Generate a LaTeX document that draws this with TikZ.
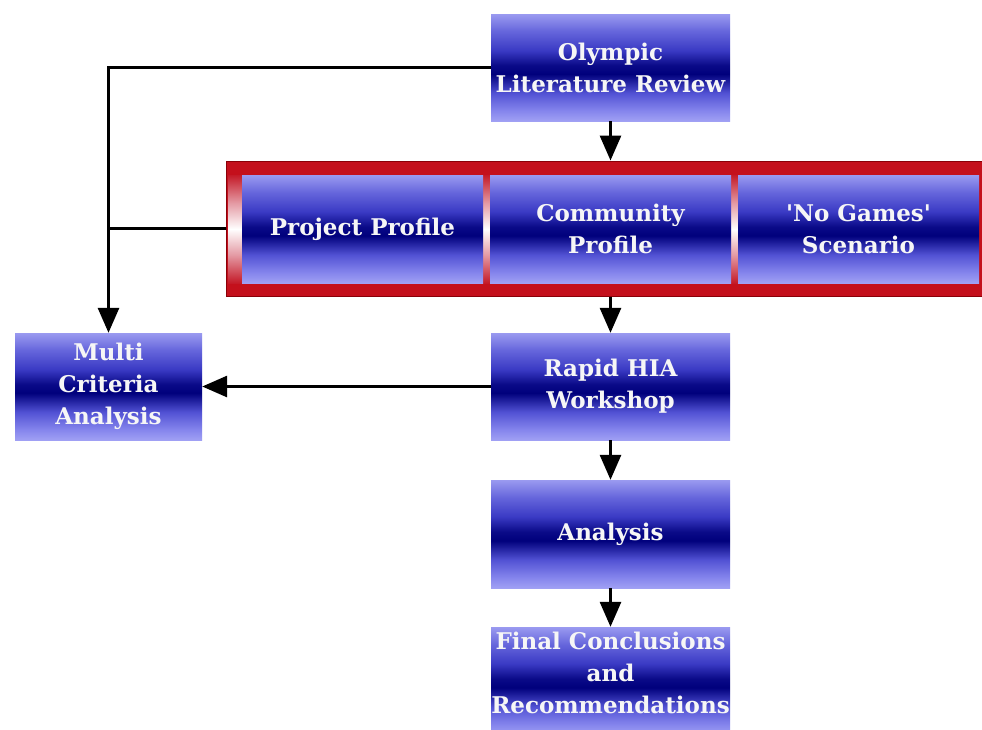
\documentclass[tikz,border=0pt]{standalone}
\usepackage{fontspec}
\newfontfamily\bxfont{DejaVu Serif}[Ligatures=TeXOff]
\usetikzlibrary{arrows.meta}
\definecolor{bxA}{HTML}{A0A0F4}
\definecolor{bxB}{HTML}{8484EC}
\definecolor{bxC}{HTML}{5252D4}
\definecolor{bxD}{HTML}{00007C}
\definecolor{bxDD}{HTML}{0A0A88}
\definecolor{bxE}{HTML}{3A3AC4}
\definecolor{bxF}{HTML}{6666DC}
\definecolor{bxG}{HTML}{9A9AF0}
\definecolor{frred}{HTML}{C4101C}
\definecolor{frdark}{HTML}{8A0008}
\definecolor{gpA}{HTML}{C41A28}
\definecolor{gpB}{HTML}{E49AA4}
\definecolor{txtc}{HTML}{F6F6F6}
\pgfdeclareverticalshading{bxshade}{100bp}{color(0bp)=(bxA); color(25bp)=(bxA); color(30bp)=(bxB); color(38bp)=(bxC); color(47bp)=(bxD); color(51bp)=(bxDD); color(58bp)=(bxE); color(67bp)=(bxF); color(75bp)=(bxG); color(100bp)=(bxG)}
\pgfdeclareverticalshading{gapshade}{100bp}{color(0bp)=(gpA); color(25bp)=(gpA); color(38bp)=(gpB); color(50bp)=(white); color(62bp)=(gpB); color(75bp)=(gpA); color(100bp)=(gpA)}
\tikzset{
  bx/.style={shading=bxshade, draw=none, minimum width=239pt, minimum height=107pt,
    inner sep=0pt, align=center, text=txtc, font=\bxfont\bfseries\fontsize{23}{32}\selectfont},
  txtonly/.style={inner sep=0pt, align=center, text=txtc, font=\bxfont\bfseries\fontsize{23}{32}\selectfont},
  arr/.style={line width=3pt, -{Triangle[length=25pt,width=21pt]}},
  ln/.style={line width=3pt}
}
\begin{document}
\begin{tikzpicture}[x=1pt,y=-1pt]
\useasboundingbox (0,0) rectangle (982,729);
\fill[white] (0,0) rectangle (982,729);
% red frame
\node[draw=frdark, fill=frred, line width=1pt, minimum width=756pt, minimum height=135pt, inner sep=0pt] (frame) at (604,228.5) {};
\shade[shading=gapshade] (228,175) rectangle (242,283);
\shade[shading=gapshade] (483,175) rectangle (490,283);
\shade[shading=gapshade] (731,175) rectangle (738,283);
% boxes
\node[bx] (olr) at (610.5,67.5) {Olympic\\Literature Review};
\node[bx, minimum width=241pt, minimum height=108pt] (pp) at (362.5,229) {Project Profile};
\node[bx, minimum width=241pt, minimum height=108pt] (cp) at (610.5,229) {Community\\Profile};
\node[bx, minimum width=241pt, minimum height=108pt] (ng) at (858.5,229) {'No Games'\\Scenario};
\node[bx, minimum width=187pt] (mca) at (108.5,386.5) {Multi\\Criteria\\Analysis};
\node[bx] (rhia) at (610.5,386.5) {Rapid HIA\\Workshop};
\node[bx, minimum height=108pt] (ana) at (610.5,534) {Analysis};
\node[bx, minimum height=108pt] (fcr) at (610.5,681) {};
\node[txtonly] (fcrtext) at ([yshift=8pt]fcr.center) {Final Conclusions\\and\\Recommendations};
% connectors
\draw[arr] (olr.south) -- (olr.south |- frame.north);
\draw[arr] (olr.west) -| (mca.north);
\draw[ln] (frame.west) -- (frame.west -| mca.north);
\draw[arr] (cp.south |- frame.south) -- (rhia.north);
\draw[arr] (rhia.west) -- (mca.east);
\draw[arr] (rhia.south) -- (ana.north);
\draw[arr] (ana.south) -- (fcr.north);
\end{tikzpicture}
\end{document}
